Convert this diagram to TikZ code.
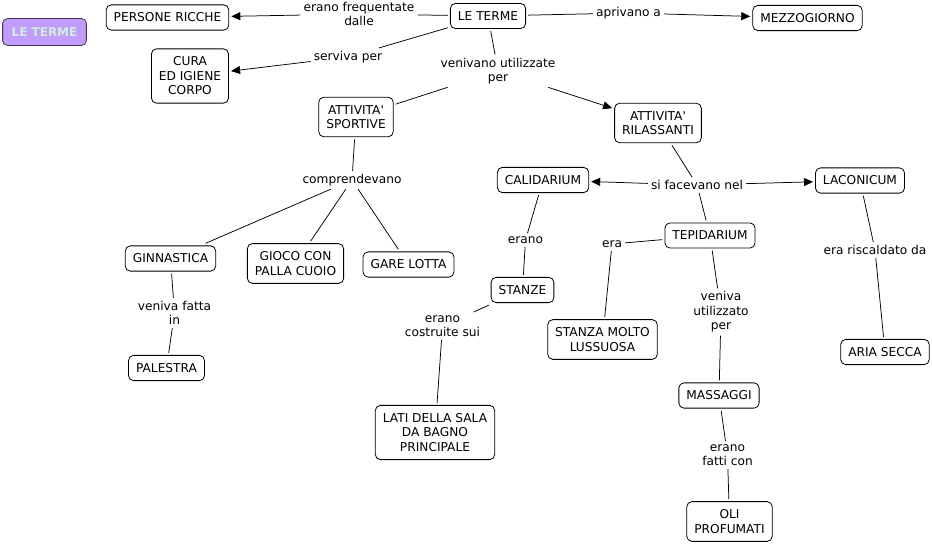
\documentclass[tikz,border=0pt]{standalone}
\usepackage{fontspec}
\setmainfont{DejaVu Sans}
\usetikzlibrary{arrows.meta}
\definecolor{lilla}{RGB}{193,156,251}
\definecolor{lillabordo}{RGB}{70,50,90}
\definecolor{menta}{RGB}{208,238,222}

\begin{document}
\begin{tikzpicture}[x=1pt, y=-1pt, font=\fontsize{12.2}{14.5}\selectfont,
    concetto/.style={draw=black, line width=0.8pt, rounded corners=5pt, fill=white,
        align=center, inner xsep=7.5pt, inner ysep=8pt, minimum height=25pt, outer sep=2.5pt},
    frase/.style={align=center, inner sep=3pt},
    linea/.style={line width=0.75pt},
    freccia/.style={line width=0.75pt, -{Triangle[length=9pt,width=8pt]}}]
    \useasboundingbox (0,0) rectangle (932,544);
    % titolo in alto a sinistra
    \node [draw=lillabordo, line width=0.8pt, fill=lilla, rounded corners=5pt, text=menta,
        font=\fontsize{12}{14.5}\selectfont\bfseries, inner xsep=9pt, minimum height=27pt]
        (titolo) at (44.5,32) {LE TERME};
    % concetti
    \node [concetto] (terme)       at (488,16)     {LE TERME};
    \node [concetto] (persone)     at (167.5,17.5) {PERSONE RICCHE};
    \node [concetto] (mezzogiorno) at (807.5,18)   {MEZZOGIORNO};
    \node [concetto] (cura)        at (190,76)     {CURA\\ED IGIENE\\CORPO};
    \node [concetto] (sportive)    at (356,117)    {ATTIVITA\textquotesingle\\SPORTIVE};
    \node [concetto] (rilassanti)  at (658,123)    {ATTIVITA\textquotesingle\\RILASSANTI};
    \node [concetto] (calidarium)  at (543,180)    {CALIDARIUM};
    \node [concetto] (laconicum)   at (860,180.5)  {LACONICUM};
    \node [concetto] (tepidarium)  at (710,235.5)  {TEPIDARIUM};
    \node [concetto] (ginnastica)  at (170.5,258.5) {GINNASTICA};
    \node [concetto] (gioco)       at (295.5,263.5) {GIOCO CON\\PALLA CUOIO};
    \node [concetto] (lotta)       at (408.5,264.5) {GARE LOTTA};
    \node [concetto] (stanze)      at (522.5,290)  {STANZE};
    \node [concetto] (lussuosa)    at (602.5,339.5) {STANZA MOLTO\\LUSSUOSA};
    \node [concetto] (aria)        at (885,352)    {ARIA SECCA};
    \node [concetto] (palestra)    at (166.5,368)  {PALESTRA};
    \node [concetto] (massaggi)    at (719,395.5)  {MASSAGGI};
    \node [concetto] (lati)        at (435,432.5)  {LATI DELLA SALA\\DA BAGNO\\PRINCIPALE};
    \node [concetto] (oli)         at (729.5,521.5) {OLI\\PROFUMATI};
    % frasi di collegamento
    \node [frase] (frequentate) at (359,14)    {erano frequentate\\dalle};
    \node [frase] (aprivano)    at (628.5,13)  {aprivano a};
    \node [frase] (serviva)     at (348,57)    {serviva per};
    \node [frase] (utilizzate)  at (498,71)    {venivano utilizzate\\per};
    \node [frase] (comprendevano) at (352,180) {comprendevano};
    \node [frase] (facevano)    at (697,185)   {si facevano nel};
    \node [frase] (erano)       at (525.5,240) {erano};
    \node [frase] (era)         at (612,244)   {era};
    \node [frase] (riscaldato)  at (875,250)   {era riscaldato da};
    \node [frase] (fatta)       at (174.5,313) {veniva fatta\\in};
    \node [frase] (costruite)   at (442.5,326) {erano\\costruite sui};
    \node [frase] (utilizzato)  at (721,312)   {veniva\\utilizzato\\per};
    \node [frase] (fatti)       at (727.5,455) {erano\\fatti con};
    % linee senza freccia
    \foreach \a/\b in {terme/frequentate, terme/aprivano, terme/serviva, terme/utilizzate,
        utilizzate/sportive, sportive/comprendevano, comprendevano/ginnastica,
        comprendevano/gioco, comprendevano/lotta, ginnastica/fatta, fatta/palestra,
        rilassanti/facevano, facevano/tepidarium, calidarium/erano, erano/stanze,
        stanze/costruite, costruite/lati, tepidarium/era, era/lussuosa,
        tepidarium/utilizzato, utilizzato/massaggi, massaggi/fatti, fatti/oli,
        laconicum/riscaldato, riscaldato/aria}{
        \draw [linea] (\a) -- (\b);
    }
    % linee con freccia
    \foreach \a/\b in {frequentate/persone, aprivano/mezzogiorno, serviva/cura,
        utilizzate/rilassanti, facevano/calidarium, facevano/laconicum}{
        \draw [freccia] (\a) -- (\b);
    }
\end{tikzpicture}
\end{document}
